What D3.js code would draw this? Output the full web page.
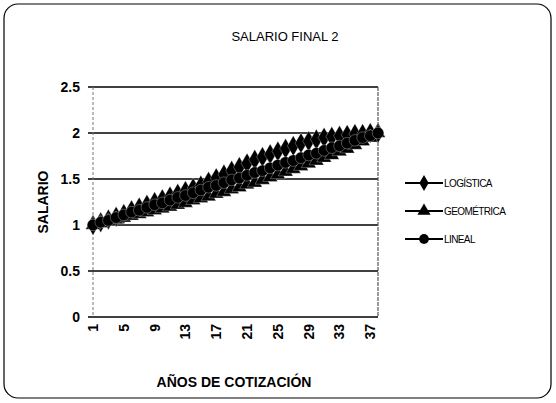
<!DOCTYPE html>
<html>
<head>
<meta charset="utf-8">
<script src="https://cdnjs.cloudflare.com/ajax/libs/d3/7.8.5/d3.min.js"></script>
<style>
  body { margin: 0; background: #fff; }
  text { font-family: "Liberation Sans", Arial, sans-serif; fill: #000; }
</style>
</head>
<body>
<script>
"use strict";

// years of contribution 1..38
let years = d3.range(1, 39);
let yTicks = [0, 0.5, 1, 1.5, 2, 2.5];
let seriesNames = ["LOGÍSTICA", "GEOMÉTRICA", "LINEAL"];

let logistica = [1.00, 1.03, 1.06, 1.09, 1.12, 1.16, 1.19, 1.22, 1.25, 1.28,
  1.31, 1.34, 1.37, 1.40, 1.43, 1.47, 1.51, 1.55, 1.59, 1.63,
  1.67, 1.71, 1.74, 1.77, 1.80, 1.83, 1.86, 1.89, 1.91, 1.93,
  1.95, 1.96, 1.97, 1.98, 1.99, 1.99, 2.00, 2.00];
let geometrica = [1.00, 1.02, 1.04, 1.06, 1.08, 1.10, 1.12, 1.14, 1.16, 1.18,
  1.20, 1.22, 1.24, 1.27, 1.29, 1.31, 1.34, 1.36, 1.39, 1.41,
  1.44, 1.46, 1.49, 1.52, 1.55, 1.58, 1.61, 1.64, 1.67, 1.70,
  1.73, 1.76, 1.80, 1.83, 1.87, 1.91, 1.95, 2.00];
let lineal = [1.00, 1.03, 1.05, 1.08, 1.11, 1.14, 1.16, 1.19, 1.22, 1.24,
  1.27, 1.30, 1.32, 1.35, 1.38, 1.41, 1.43, 1.46, 1.49, 1.51,
  1.54, 1.57, 1.59, 1.62, 1.65, 1.68, 1.70, 1.73, 1.76, 1.78,
  1.81, 1.84, 1.86, 1.89, 1.92, 1.95, 1.97, 2.00];

let width = 556;
let height = 403;

let svg = d3.select("body").append("svg").attr("width", width).attr("height", height);

// outer frame
svg.append("rect")
  .attr("x", 4).attr("y", 4)
  .attr("width", 547).attr("height", 394)
  .attr("rx", 14).attr("ry", 14)
  .attr("fill", "none")
  .attr("stroke", "#000")
  .attr("stroke-width", 1.2);

let plotLeft = 93, plotRight = 378, plotTop = 87, plotBottom = 317;

let x = d3.scalePoint().domain(years).range([plotLeft, plotRight]);
let y = d3.scaleLinear().domain([0, 2.5]).range([plotBottom, plotTop]);

// grid
svg.append("g").selectAll("line")
  .data(yTicks)
  .enter()
  .append("line")
  .attr("x1", plotLeft - 5).attr("x2", plotRight)
  .attr("y1", d => y(d)).attr("y2", d => y(d))
  .attr("stroke", "#000")
  .attr("stroke-width", 1.3);

svg.append("line")
  .attr("x1", plotLeft).attr("x2", plotLeft).attr("y1", plotTop).attr("y2", plotBottom)
  .attr("stroke", "#777").attr("stroke-width", 1).attr("stroke-dasharray", "3,2");
svg.append("line")
  .attr("x1", plotRight).attr("x2", plotRight).attr("y1", plotTop).attr("y2", plotBottom)
  .attr("stroke", "#555").attr("stroke-width", 1.2).attr("stroke-dasharray", "4,1");

// y tick labels
svg.append("g").selectAll("text")
  .data(yTicks)
  .enter()
  .append("text")
  .attr("x", 80)
  .attr("y", d => y(d))
  .attr("dy", "0.35em")
  .attr("text-anchor", "end")
  .style("font-size", "14px")
  .style("font-weight", "bold")
  .text(d => d);

// x tick labels (every 4th)
svg.append("g").selectAll("text")
  .data(years.filter(d => (d - 1) % 4 === 0))
  .enter()
  .append("text")
  .attr("transform", d => "translate(" + (x(d) + 5) + "," + (plotBottom + 7) + ") rotate(-90)")
  .attr("text-anchor", "end")
  .style("font-size", "14px")
  .style("font-weight", "bold")
  .text(d => d);

// titles
svg.append("text")
  .attr("x", 285).attr("y", 41)
  .attr("text-anchor", "middle")
  .style("font-size", "13px")
  .text("SALARIO FINAL 2");

svg.append("text")
  .attr("transform", "translate(48,202) rotate(-90)")
  .attr("text-anchor", "middle")
  .style("font-size", "14px")
  .style("font-weight", "bold")
  .text("SALARIO");

svg.append("text")
  .attr("x", 234).attr("y", 387)
  .attr("text-anchor", "middle")
  .style("font-size", "14px")
  .style("font-weight", "bold")
  .text("AÑOS DE COTIZACIÓN");

// series
let series = [
  { name: seriesNames[0], values: logistica, symbol: d3.symbolDiamond, size: 120 },
  { name: seriesNames[1], values: geometrica, symbol: d3.symbolTriangle, size: 95 },
  { name: seriesNames[2], values: lineal, symbol: d3.symbolCircle, size: 105 }
];

let line = d3.line()
  .x((d, i) => x(years[i]))
  .y(d => y(d));

series.forEach(function (s) {
  let g = svg.append("g");
  g.append("path")
    .attr("d", line(s.values))
    .attr("fill", "none")
    .attr("stroke", "#000")
    .attr("stroke-width", 3);
  g.selectAll("path.m")
    .data(s.values)
    .enter()
    .append("path")
    .attr("class", "m")
    .attr("transform", (d, i) => "translate(" + x(years[i]) + "," + y(d) + ")")
    .attr("d", d3.symbol().type(s.symbol).size(s.size))
    .attr("fill", "#000")
    .attr("stroke", "#fff")
    .attr("stroke-width", 0.3);
});

// legend
let legend = svg.append("g");
series.forEach(function (s, i) {
  let ly = 183 + i * 28;
  legend.append("line")
    .attr("x1", 405).attr("x2", 443).attr("y1", ly).attr("y2", ly)
    .attr("stroke", "#000").attr("stroke-width", 2);
  legend.append("path")
    .attr("transform", "translate(424," + ly + ")")
    .attr("d", d3.symbol().type(s.symbol).size(75))
    .attr("fill", "#000");
  legend.append("text")
    .attr("x", 444).attr("y", ly)
    .attr("dy", "0.35em")
    .style("font-size", "10px")
    .style("letter-spacing", "-0.6px")
    .text(s.name);
});
</script>
</body>
</html>
